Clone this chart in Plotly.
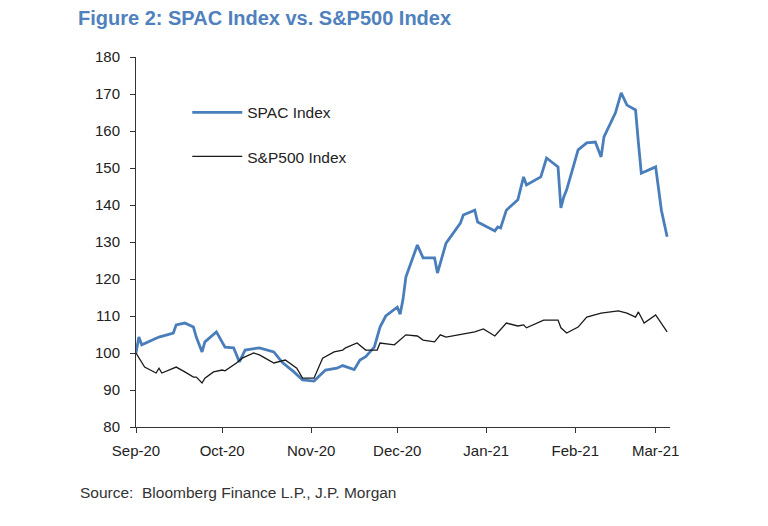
import plotly.graph_objects as go

# SPAC index (rebased to 100 on 1 Sep 2020)
spac_dates = [
    "2020-09-01", "2020-09-02", "2020-09-03", "2020-09-09", "2020-09-14", "2020-09-15",
    "2020-09-18", "2020-09-21", "2020-09-22", "2020-09-24", "2020-09-25", "2020-09-29",
    "2020-10-02", "2020-10-05", "2020-10-07", "2020-10-09", "2020-10-14", "2020-10-19",
    "2020-10-22", "2020-10-26", "2020-10-29", "2020-11-02", "2020-11-06", "2020-11-10",
    "2020-11-12", "2020-11-16", "2020-11-18", "2020-11-20", "2020-11-23", "2020-11-25",
    "2020-11-27", "2020-12-01", "2020-12-02", "2020-12-03", "2020-12-04", "2020-12-07",
    "2020-12-08", "2020-12-10", "2020-12-14", "2020-12-15", "2020-12-17", "2020-12-18",
    "2020-12-23", "2020-12-24", "2020-12-28", "2020-12-29", "2021-01-04", "2021-01-05",
    "2021-01-06", "2021-01-08", "2021-01-12", "2021-01-14", "2021-01-15", "2021-01-20",
    "2021-01-22", "2021-01-26", "2021-01-27", "2021-01-28", "2021-01-29", "2021-02-02",
    "2021-02-05", "2021-02-08", "2021-02-10", "2021-02-11", "2021-02-15", "2021-02-17",
    "2021-02-19", "2021-02-22", "2021-02-23", "2021-02-24", "2021-03-01", "2021-03-03",
    "2021-03-05",
]
spac_values = [
    100.0, 104.3, 102.2, 104.3, 105.4, 107.6,
    108.1, 107.0, 104.3, 100.3, 103.0, 105.7,
    101.6, 101.4, 97.6, 100.8, 101.4, 100.3,
    97.4, 94.9, 92.7, 92.4, 95.4, 95.9,
    96.6, 95.5, 98.1, 99.0, 101.6, 107.0,
    110.0, 112.4, 110.5, 114.5, 120.5, 127.3,
    129.2, 125.7, 125.7, 121.6, 127.3, 129.7,
    135.1, 137.3, 138.6, 135.4, 133.0, 134.1,
    133.8, 138.6, 141.4, 147.6, 145.4, 147.6,
    152.7, 150.3, 139.2, 142.2, 144.1, 154.9,
    156.8, 157.0, 153.0, 158.4, 164.9, 170.3,
    167.0, 165.7, 156.8, 148.6, 150.3, 138.6,
    131.4,
]

# S&P500 index (same rebasing)
spx_dates = [
    "2020-09-01", "2020-09-03", "2020-09-04", "2020-09-08", "2020-09-09", "2020-09-10",
    "2020-09-15", "2020-09-18", "2020-09-21", "2020-09-22", "2020-09-24", "2020-09-25",
    "2020-09-28", "2020-10-01", "2020-10-02", "2020-10-06", "2020-10-08", "2020-10-12",
    "2020-10-14", "2020-10-16", "2020-10-19", "2020-10-23", "2020-10-27", "2020-10-29",
    "2020-11-02", "2020-11-05", "2020-11-09", "2020-11-12", "2020-11-13", "2020-11-17",
    "2020-11-20", "2020-11-24", "2020-11-25", "2020-11-30", "2020-12-02", "2020-12-04",
    "2020-12-08", "2020-12-10", "2020-12-14", "2020-12-16", "2020-12-18", "2020-12-23",
    "2020-12-28", "2020-12-31", "2021-01-04", "2021-01-08", "2021-01-12", "2021-01-14",
    "2021-01-15", "2021-01-21", "2021-01-26", "2021-01-27", "2021-01-29", "2021-02-02",
    "2021-02-05", "2021-02-10", "2021-02-16", "2021-02-19", "2021-02-22", "2021-02-23",
    "2021-02-25", "2021-03-01", "2021-03-05",
]
spx_values = [
    100.0, 97.6, 96.2, 94.6, 95.9, 94.6,
    96.2, 94.9, 93.5, 93.5, 91.9, 93.2,
    94.9, 95.4, 95.2, 97.3, 98.6, 100.0,
    99.5, 98.6, 97.3, 98.1, 95.9, 93.2,
    93.2, 98.6, 100.3, 100.8, 101.4, 102.7,
    100.8, 100.8, 102.7, 102.2, 103.5, 104.9,
    104.6, 103.5, 103.0, 104.9, 104.3, 105.1,
    105.7, 106.5, 104.6, 108.1, 107.3, 107.6,
    106.8, 108.9, 108.9, 106.8, 105.4, 107.0,
    109.7, 110.8, 111.4, 110.8, 109.7, 111.1,
    108.1, 110.3, 105.7,
]

BLUE = "#4a7ebb"
FONT = "Liberation Sans, Arial, sans-serif"

fig = go.Figure()
fig.add_trace(go.Scatter(x=spac_dates, y=spac_values, mode="lines", name="SPAC Index",
                         line=dict(color=BLUE, width=2.8), legend="legend", showlegend=True))
fig.add_trace(go.Scatter(x=spx_dates, y=spx_values, mode="lines", name="S&P500 Index",
                         line=dict(color="#1a1a1a", width=1.3), legend="legend2", showlegend=True))

legend_style = dict(xanchor="left", yanchor="middle", bgcolor="rgba(0,0,0,0)",
                    itemwidth=50, font=dict(family=FONT, size=15.5, color="#222"))

fig.update_layout(
    width=768, height=526,
    margin=dict(l=128, r=106, t=49, b=107),
    showlegend=True,
    paper_bgcolor="white", plot_bgcolor="white",
    font=dict(family=FONT, size=15, color="#222"),
    title=dict(text="<b>Figure 2: SPAC Index vs. S&P500 Index</b>",
               x=70 / 768, xanchor="left", y=1 - 10 / 526, yanchor="middle",
               font=dict(family=FONT, size=20, color="#4f81bd")),
    legend=dict(x=0.096, y=0.849, **legend_style),
    legend2=dict(x=0.096, y=0.73, **legend_style),
    xaxis=dict(
        type="date", range=["2020-09-01", "2021-03-06"],
        tick0="2020-09-01", dtick="M1", tickformat="%b-%y",
        showline=True, linecolor="#333", linewidth=1,
        ticks="outside", ticklen=5, tickcolor="#333", ticklabelstandoff=5,
        showgrid=False, zeroline=False,
        tickfont=dict(family=FONT, size=15, color="#222"),
    ),
    yaxis=dict(
        range=[80, 180], dtick=10,
        showline=True, linecolor="#333", linewidth=1,
        ticks="outside", ticklen=5, tickcolor="#333", ticklabelstandoff=7,
        showgrid=False, zeroline=False,
        tickfont=dict(family=FONT, size=15, color="#222"),
    ),
)

fig.add_annotation(text="Source:  Bloomberg Finance L.P., J.P. Morgan",
                   xref="paper", yref="paper", x=-58 / 534, y=-65 / 370,
                   xanchor="left", yanchor="middle", showarrow=False,
                   font=dict(family=FONT, size=15.5, color="#333"))

fig.write_html("out.html")
